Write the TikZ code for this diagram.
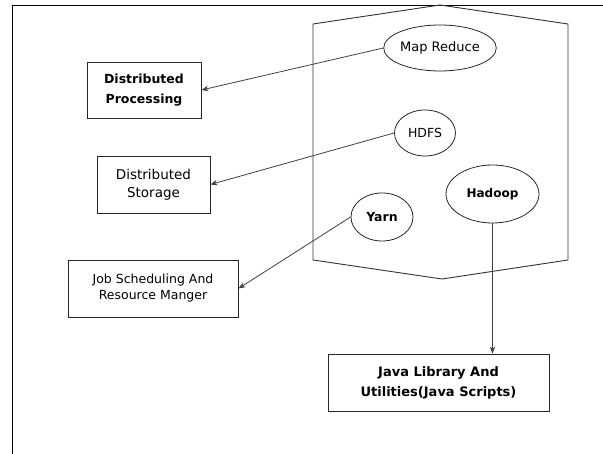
\documentclass[tikz,border=0pt]{standalone}
\usepackage{fontspec}
\setmainfont{DejaVu Sans}
\usetikzlibrary{shapes.geometric,arrows.meta}

\begin{document}
\begin{tikzpicture}[x=1pt,y=-1pt,
  every node/.style={align=center,font=\fontsize{12.5}{18}\selectfont},
  task/.style={draw=black!85,line width=0.9pt,inner sep=0pt},
  part/.style={draw=black!85,ellipse,line width=0.8pt,inner sep=0pt},
  link/.style={draw=black!75,line width=0.8pt,-{Stealth[length=7pt,width=5.5pt]}}]
\useasboundingbox (0,0) rectangle (603,454);

% page frame
\draw[line width=0.9pt] (12,454) -- (12,5) -- (603,5);

% hadoop outline
\draw[draw=black!80,line width=0.9pt] (313,24) -- (440,5) -- (568,24) -- (568,260)
  -- (442,279) -- (313,260) -- cycle;

\node[part,minimum width=105,minimum height=46,font=\fontsize{13}{18}\selectfont] (mapr) at (440,48) {Map Reduce};
\node[part,minimum width=61,minimum height=46] (hdfs) at (425,133) {HDFS};
\node[part,minimum width=62,minimum height=48,font=\fontsize{12.5}{18}\selectfont\bfseries] (yarn) at (382,217) {Yarn};
\node[part,minimum width=93,minimum height=58,font=\fontsize{12}{18}\selectfont\bfseries] (hadoop) at (492.5,194) {Hadoop};

\node[task,minimum width=114,minimum height=56,font=\fontsize{12.5}{20}\selectfont\bfseries] (proc) at (144,90) {Distributed\\Processing};
\node[task,minimum width=113,minimum height=57,font=\fontsize{13.5}{18}\selectfont] (stor) at (153.5,184.5) {Distributed\\Storage};
\node[task,minimum width=170,minimum height=57,font=\fontsize{12.5}{16}\selectfont] (jobs) at (153,288.5) {Job Scheduling And\\Resource Manger};
\node[task,minimum width=221,minimum height=57,font=\fontsize{13}{20}\selectfont\bfseries] (java) at (438.5,382.5) {Java Library And\\Utilities(Java Scripts)};

\draw[link] (mapr.west) -- (proc.east);
\draw[link] (hdfs.west) -- (stor.east);
\draw[link] (yarn.west) -- (jobs.east);
\draw[link] (hadoop.south) -- (hadoop.south |- java.north);
\end{tikzpicture}
\end{document}
